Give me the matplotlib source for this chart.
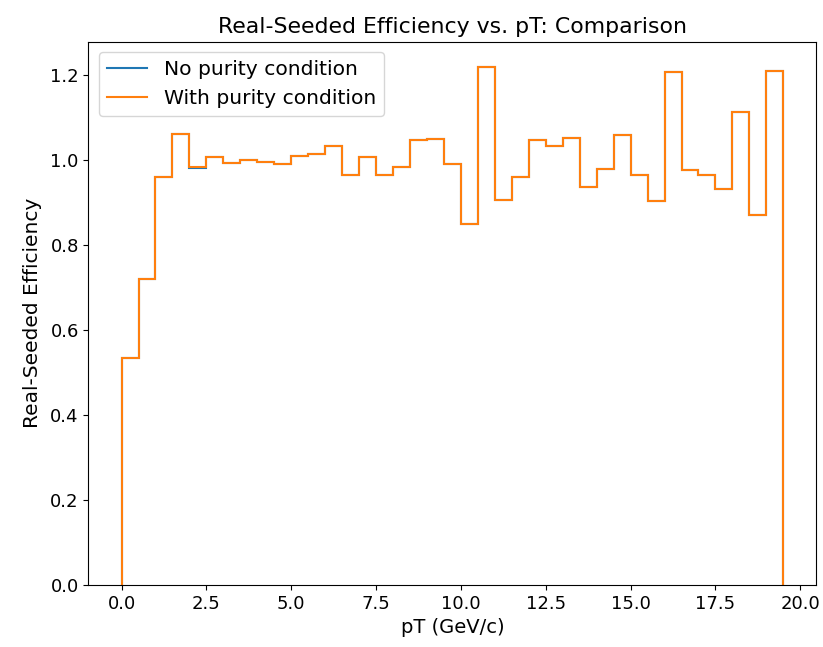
import numpy as np
import matplotlib
matplotlib.use("Agg")
import matplotlib.pyplot as plt

# pT bin edges (GeV/c), 0.5 GeV/c wide
bin_edges = np.linspace(0.0, 19.5, 40)

# Efficiency per bin
eff_with_purity = [
    0.535, 0.719, 0.959, 1.061, 0.983, 1.008, 0.994, 1.000, 0.996, 0.990,
    1.010, 1.014, 1.032, 0.966, 1.007, 0.966, 0.984, 1.047, 1.049, 0.990,
    0.850, 1.218, 0.905, 0.961, 1.047, 1.032, 1.052, 0.936, 0.978, 1.058,
    0.966, 0.904, 1.208, 0.976, 0.964, 0.933, 1.114, 0.871, 1.210,
]
# without purity cut the curve is the same except a tiny shift at 2.0-2.5
eff_no_purity = list(eff_with_purity)
eff_no_purity[4] = 0.981

plt.rcParams['font.size'] = 13

fig = plt.figure(figsize=(8.23, 6.47), dpi=100)
ax = fig.add_axes([0.1075, 0.0958, 0.8845, 0.84])

ax.stairs(eff_no_purity, bin_edges, color='C0', linewidth=1.5, label='No purity condition')
ax.stairs(eff_with_purity, bin_edges, color='C1', linewidth=1.5, label='With purity condition')

ax.set_xlabel('pT (GeV/c)', fontsize=14)
ax.set_ylabel('Real-Seeded Efficiency', fontsize=14.5, labelpad=6)
ax.set_title('Real-Seeded Efficiency vs. pT: Comparison', fontsize=15.8)
ax.legend(loc='upper left', fontsize=14.6)

fig.savefig('out.png', dpi=100)
